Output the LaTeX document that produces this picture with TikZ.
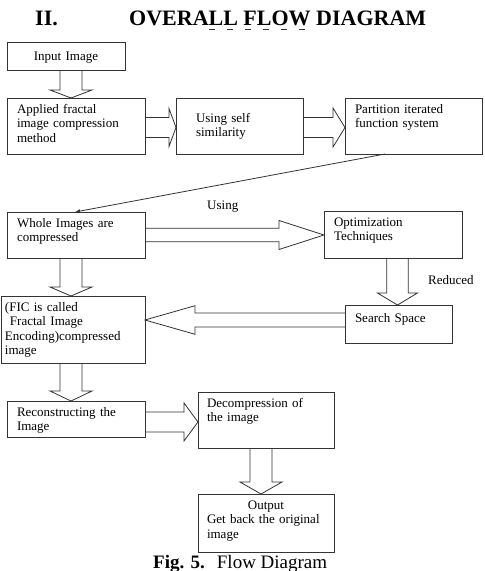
\documentclass[tikz,border=0pt]{standalone}
\usepackage{fontspec}
\setmainfont{Liberation Serif}
\usetikzlibrary{arrows.meta,positioning,calc}

% hollow block arrow: from, to, shaft half width, head half width, head length
\newcommand{\flowarrow}[5]{%
  \coordinate (fa-head) at ($(#2)!#5!(#1)$);
  \draw[fatarrow] ($(#1)!#3!90:(#2)$) -- ($(fa-head)!#3!90:(#2)$)
    -- ($(fa-head)!#4!90:(#2)$) -- (#2) -- ($(fa-head)!#4!-90:(#2)$)
    -- ($(fa-head)!#3!-90:(#2)$) -- ($(#1)!#3!-90:(#2)$);
}

\begin{document}
\begin{tikzpicture}[
    x=1pt, y=1pt,
    font=\fontsize{13}{14.5}\selectfont,
    >=Latex,
    % --- node styles ---
    box/.style = {rectangle, draw=black!80, line width=0.8pt,
                  anchor=north west, align=left, outer sep=0pt,
                  inner xsep=10pt, inner ysep=4pt,
                  text height=11pt, text width=118pt},
    fatarrow/.style  = {draw=black!80, line width=0.8pt, line join=miter},
    thinarrow/.style = {-{Latex[length=5pt,width=4pt]}, draw=black!80, line width=0.8pt},
    lbl/.style = {anchor=base west, inner sep=0pt},
]
\useasboundingbox (0,0) rectangle (485,-571);

%============ HEADING ============
\node (secno) [lbl, font=\fontsize{22}{24}\selectfont\bfseries] at (35,-25) {II.};
\node (title) [lbl, font=\fontsize{22}{24}\selectfont\bfseries] at (129,-25) {OVERALL FLOW DIAGRAM};
\draw[black!80, line width=0.8pt, dash pattern=on 6pt off 12pt]
  ($(title.base west)+(80,-4.5)$) -- ++(98,0);

%============ FIRST ROW ============
\node (input) [box, align=center, text width=98pt, text height=14pt, text depth=6pt]
  at (7,-42) {Input Image};

\node (applied) [box, text depth=37pt] at (7,-98)
  {Applied fractal\\image compression\\method};

\node (using) [box, right=31pt of applied, inner xsep=20pt, text width=87pt,
               text height=20pt, text depth=28pt]
  {Using self\\similarity};

\node (partition) [box, right=42pt of using, text width=117pt, text depth=37pt]
  {Partition iterated\\function system};

%============ COMPRESSION ============
\node (whole) [box, text depth=27pt] at (7,-212)
  {Whole Images are\\compressed};

\node (optim) [box, text depth=28pt] at (324,-211)
  {Optimization\\Techniques};

\node (search) [box, text width=87pt, text height=13pt, text depth=17pt] at (345,-305)
  {Search Space};

\node (fic) [box, inner xsep=4pt, text width=136pt, text depth=48pt] at (1,-296)
  {(FIC is called\\\hspace*{5pt}Fractal Image\\Encoding)compressed\\image};

%============ DECOMPRESSION ============
\node (recon) [box, text depth=17pt] at (7,-401)
  {Reconstructing the\\Image};

\node (decomp) [box, inner xsep=9pt, text depth=37pt] at (198,-392)
  {Decompression of\\the image};

\node (output) [box, inner xsep=9pt, text depth=39pt] at (198,-494)
  {\makebox[\linewidth]{Output}\\Get back the original\\image};

%============ LABELS ============
\node (usinglbl) [lbl] at (207,-209) {Using};
\node (reducedlbl) [lbl] at (428,-284) {Reduced};

\node (caption) [lbl, font=\fontsize{19}{21}\selectfont] at (153,-568)
  {\textbf{Fig. 5.}\hspace{12pt}Flow Diagram};

%============ BLOCK ARROWS ============
\coordinate (s1) at ($(input.south west)+(64,0)$);   \coordinate (e1) at (s1 |- applied.north);
\coordinate (s2) at ($(applied.east)+(0,-1.5)$);     \coordinate (e2) at (s2 -| using.west);
\coordinate (s3) at ($(using.east)+(0,-1.5)$);       \coordinate (e3) at (s3 -| partition.west);
\coordinate (s4) at ($(whole.north east)+(0,-23)$);  \coordinate (e4) at (s4 -| optim.west);
\coordinate (s5) at ($(optim.south west)+(73.5,0)$); \coordinate (e5) at (s5 |- search.north);
\coordinate (s6) at ($(search.north west)+(0,-15)$); \coordinate (e6) at (s6 -| fic.east);
\coordinate (s7) at ($(whole.south west)+(64,0)$);   \coordinate (e7) at (s7 |- fic.north);
\coordinate (s8) at ($(fic.south west)+(70,0)$);     \coordinate (e8) at (s8 |- recon.north);
\coordinate (s9) at ($(recon.north east)+(0,-21)$);  \coordinate (e9) at (s9 -| decomp.west);
\coordinate (s10) at ($(decomp.south west)+(63,0)$); \coordinate (e10) at (s10 |- output.north);

\foreach \s/\e/\w/\h/\l in {
  s1/e1/11/21/8, s2/e2/10/19/7, s3/e3/10/19.5/12, s4/e4/6.7/14.5/45,
  s5/e5/10.8/20/12, s6/e6/7/14.3/50, s7/e7/11/21/9, s8/e8/11/21/10,
  s9/e9/10/19/14, s10/e10/11/21/12}
  \flowarrow{\s}{\e}{\w pt}{\h pt}{\l pt};

% thin arrow back to the left column
\coordinate (t1) at ($(partition.south west)+(40,0)$);
\coordinate (t2) at ($(whole.north west)+(68,0)$);
\draw[thinarrow] (t1) -- (t2);

\end{tikzpicture}
\end{document}
